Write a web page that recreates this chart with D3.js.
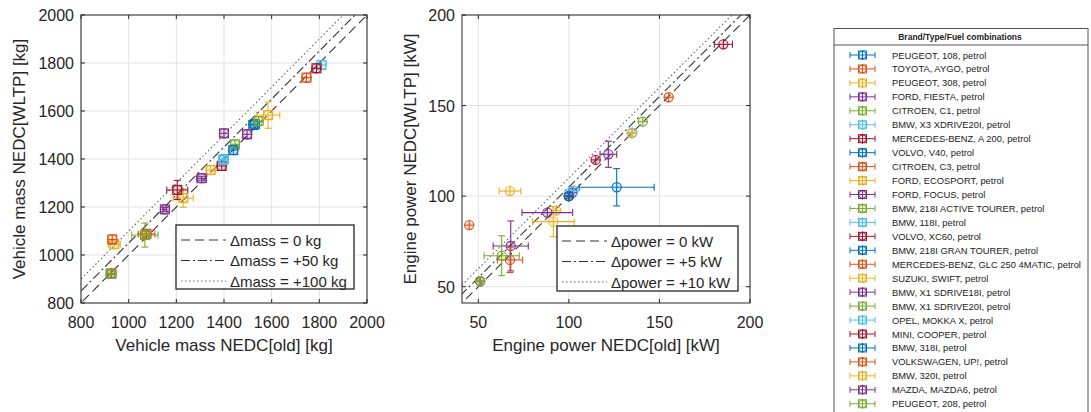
<!DOCTYPE html>
<html><head><meta charset="utf-8">
<script src="https://cdn.jsdelivr.net/npm/d3@7"></script>
<style>
body{margin:0;background:#fff;}
svg{font-family:"Liberation Sans",Arial,sans-serif;}
</style></head>
<body><svg id="c" width="1091" height="412"></svg>
<script>
const brands = ["PEUGEOT, 108, petrol","TOYOTA, AYGO, petrol","PEUGEOT, 308, petrol","FORD, FIESTA, petrol","CITROEN, C1, petrol","BMW, X3 XDRIVE20I, petrol","MERCEDES-BENZ, A 200, petrol","VOLVO, V40, petrol","CITROEN, C3, petrol","FORD, ECOSPORT, petrol","FORD, FOCUS, petrol","BMW, 218I ACTIVE TOURER, petrol","BMW, 118I, petrol","VOLVO, XC60, petrol","BMW, 218I GRAN TOURER, petrol","MERCEDES-BENZ, GLC 250 4MATIC, petrol","SUZUKI, SWIFT, petrol","BMW, X1 SDRIVE18I, petrol","BMW, X1 SDRIVE20I, petrol","OPEL, MOKKA X, petrol","MINI, COOPER, petrol","BMW, 318I, petrol","VOLKSWAGEN, UP!, petrol","BMW, 320I, petrol","MAZDA, MAZDA6, petrol","PEUGEOT, 208, petrol"];
const massOld  = [925, 928,1229,1152, 925,1809,1390,1530,1075,1344,1306,1446,1397,1788,1523,1746, 940,1497,1545,1400,1204,1439, 931,1585,1400,1068];
const massWltp = [921, 923,1237,1190, 921,1792,1371,1545,1088,1354,1320,1461,1396,1778,1542,1739,1045,1503,1558,1400,1271,1437,1065,1583,1507,1083];
const massErrX = [  0,   0,  42,   8,   0,   0,   0,   0,  35,   0,  20,   0,   0,   0,   0,   0,  25,   0,   0,   0,  44,   0,   0,  49,   0,  55];
const massErrY = [  0,   0,  38,   8,   0,   0,   0,   0,  10,   0,   8,   0,   0,   0,   0,   0,   0,   0,   0,   0,  40,   0,   0,  55,   0,  50];
const powerOld  = [51, 51, 93, 67.9, 51, 135, 114.8, 126.4, 67.5, 91.4, 88.1, 100, 100, 185.3, 100, 155.1, 67.5, 102, 140.8, 102.5, 100, 100, 45, 134.7, 121.8, 62.9];
const powerWltp = [53, 53, 92, 72.5, 53, 135, 120,   104.9, 64.8, 85.9, 90.9, 100, 101.5, 183.8, 100, 154.6, 102.8, 102, 141.1, 103, 100, 100, 84, 134.7, 123.1, 67.1];
const powerErrX = [ 0,  0,  0,  9.7,  0,   0,   0,    20.7,  7,   11.5, 14,    0,   0,   5,     0,   0,     6,    0,   0,     0,   0,   0,   0,  0,     4.6,   9.7];
const powerErrY = [ 0,  0,  0, 13.8,  0,   0,   0,    10.3,  7,    8.3,  0,    0,   0,   0,     0,   0,     0,    0,   0,     0,   0,   0,   0,  0,     7.2,  11];
const massTicks = [800,1000,1200,1400,1600,1800,2000];
const powerTicks = [50,100,150,200];
const massOffsets = [0,50,100];
const powerOffsets = [0,5,10];
const massLegend = ["\u0394mass = 0 kg","\u0394mass = +50 kg","\u0394mass = +100 kg"];
const powerLegend = ["\u0394power = 0 kW","\u0394power = +5 kW","\u0394power = +10 kW"];
const legendTitle = "Brand/Type/Fuel combinations";

const palette = ["#0072BD","#D95319","#EDB120","#7E2F8E","#77AC30","#4DBEEE","#A2142F"];
const color = i => palette[i % palette.length];
const dashes = ["9,5","9,3,2,3","1.5,2.5"];

const svg = d3.select("#c");
const axisCol = "#262626";

function panel(cfg){
  const g = svg.append("g");
  const x = d3.scaleLinear().domain(cfg.dom).range([cfg.x0, cfg.x1]);
  const y = d3.scaleLinear().domain(cfg.dom).range([cfg.y1, cfg.y0]);
  g.selectAll(".gx").data(cfg.ticks).enter().append("line")
    .attr("x1",d=>x(d)).attr("x2",d=>x(d)).attr("y1",cfg.y0).attr("y2",cfg.y1)
    .attr("stroke","#e3e3e3").attr("stroke-width",1);
  g.selectAll(".gy").data(cfg.ticks).enter().append("line")
    .attr("y1",d=>y(d)).attr("y2",d=>y(d)).attr("x1",cfg.x0).attr("x2",cfg.x1)
    .attr("stroke","#e3e3e3").attr("stroke-width",1);
  const cid = "clip"+cfg.id;
  svg.append("clipPath").attr("id",cid).append("rect")
    .attr("x",cfg.x0).attr("y",cfg.y0).attr("width",cfg.x1-cfg.x0).attr("height",cfg.y1-cfg.y0);
  const pg = g.append("g").attr("clip-path","url(#"+cid+")");
  cfg.offsets.forEach((o,k)=>{
    const d0 = cfg.dom[0]-200, d1 = cfg.dom[1]+200;
    pg.append("line").attr("x1",x(d0)).attr("y1",y(d0+o)).attr("x2",x(d1)).attr("y2",y(d1+o))
      .attr("stroke", k==2?"#666":"#333").attr("stroke-width",1.1).attr("stroke-dasharray",dashes[k]);
  });
  cfg.xs.forEach((xv,i)=>{
    const c = color(i), cx = x(xv), cy = y(cfg.ys[i]);
    const ex = cfg.ex[i], ey = cfg.ey[i];
    const pt = pg.append("g").attr("stroke",c).attr("fill","none").attr("stroke-width",1.1);
    const cap = 3.5;
    if (ex>0){
      pt.append("line").attr("x1",x(xv-ex)).attr("x2",x(xv+ex)).attr("y1",cy).attr("y2",cy);
      pt.append("line").attr("x1",x(xv-ex)).attr("x2",x(xv-ex)).attr("y1",cy-cap).attr("y2",cy+cap);
      pt.append("line").attr("x1",x(xv+ex)).attr("x2",x(xv+ex)).attr("y1",cy-cap).attr("y2",cy+cap);
    } else {
      pt.append("line").attr("x1",cx-5).attr("x2",cx+5).attr("y1",cy).attr("y2",cy);
    }
    if (ey>0){
      pt.append("line").attr("y1",y(cfg.ys[i]-ey)).attr("y2",y(cfg.ys[i]+ey)).attr("x1",cx).attr("x2",cx);
      pt.append("line").attr("y1",y(cfg.ys[i]-ey)).attr("y2",y(cfg.ys[i]-ey)).attr("x1",cx-cap).attr("x2",cx+cap);
      pt.append("line").attr("y1",y(cfg.ys[i]+ey)).attr("y2",y(cfg.ys[i]+ey)).attr("x1",cx-cap).attr("x2",cx+cap);
    } else {
      pt.append("line").attr("y1",cy-5).attr("y2",cy+5).attr("x1",cx).attr("x2",cx);
    }
    pt.append("circle").attr("cx",cx).attr("cy",cy).attr("r",4.6).attr("fill",c).attr("fill-opacity",0.15);
    if (cfg.square) pt.append("rect").attr("x",cx-4.5).attr("y",cy-4.5).attr("width",9).attr("height",9);
  });
  g.append("rect").attr("x",cfg.x0).attr("y",cfg.y0).attr("width",cfg.x1-cfg.x0).attr("height",cfg.y1-cfg.y0)
    .attr("fill","none").attr("stroke",axisCol).attr("stroke-width",1);
  const tl = 4;
  cfg.ticks.forEach(t=>{
    g.append("line").attr("x1",x(t)).attr("x2",x(t)).attr("y1",cfg.y1).attr("y2",cfg.y1-tl).attr("stroke",axisCol);
    g.append("line").attr("x1",x(t)).attr("x2",x(t)).attr("y1",cfg.y0).attr("y2",cfg.y0+tl).attr("stroke",axisCol);
    g.append("line").attr("y1",y(t)).attr("y2",y(t)).attr("x1",cfg.x0).attr("x2",cfg.x0+tl).attr("stroke",axisCol);
    g.append("line").attr("y1",y(t)).attr("y2",y(t)).attr("x1",cfg.x1).attr("x2",cfg.x1-tl).attr("stroke",axisCol);
  });
  g.selectAll(".tx").data(cfg.ticks).enter().append("text")
    .attr("x",d=>x(d)).attr("y",cfg.y1+25).attr("text-anchor","middle")
    .attr("font-size",16).attr("fill",axisCol).text(d=>d);
  g.selectAll(".ty").data(cfg.ticks).enter().append("text")
    .attr("x",cfg.x0-7).attr("y",d=>y(d)+6).attr("text-anchor","end")
    .attr("font-size",16).attr("fill",axisCol).text(d=>d);
  g.append("text").attr("x",(cfg.x0+cfg.x1)/2).attr("y",cfg.y1+48).attr("text-anchor","middle")
    .attr("font-size",17).attr("fill",axisCol).text(cfg.xlabel);
  g.append("text").attr("transform",`translate(${cfg.ylx},${(cfg.y0+cfg.y1)/2}) rotate(-90)`)
    .attr("text-anchor","middle").attr("font-size",17).attr("fill",axisCol).text(cfg.ylabel);
  const L = cfg.leg;
  g.append("rect").attr("x",L.x).attr("y",L.y).attr("width",L.w).attr("height",L.h)
    .attr("fill","#fff").attr("stroke",axisCol).attr("stroke-width",1.3);
  cfg.legText.forEach((t,k)=>{
    const yy = L.y + 15 + k*20.5;
    g.append("line").attr("x1",L.x+5).attr("x2",L.x+L.lw).attr("y1",yy).attr("y2",yy)
      .attr("stroke",k==2?"#666":"#333").attr("stroke-width",1.1).attr("stroke-dasharray",dashes[k]);
    g.append("text").attr("x",L.x+L.lw+4).attr("y",yy+5.5).attr("font-size",15).attr("fill",axisCol).text(t);
  });
}

panel({id:"m", dom:[800,2000], x0:81, x1:367, y0:15, y1:303, ticks:massTicks, offsets:massOffsets,
  xs:massOld, ys:massWltp, ex:massErrX, ey:massErrY, square:true,
  xlabel:"Vehicle mass NEDC[old] [kg]", ylabel:"Vehicle mass NEDC[WLTP] [kg]", ylx:25,
  legText:massLegend, leg:{x:176,y:225,w:178,h:64,lw:50}});
panel({id:"p", dom:[41,200], x0:462, x1:750, y0:15, y1:303, ticks:powerTicks, offsets:powerOffsets,
  xs:powerOld, ys:powerWltp, ex:powerErrX, ey:powerErrY, square:false,
  xlabel:"Engine power NEDC[old] [kW]", ylabel:"Engine power NEDC[WLTP] [kW]", ylx:416,
  legText:powerLegend, leg:{x:557,y:226,w:181,h:65,lw:50}});

const lg = svg.append("g");
lg.append("rect").attr("x",834).attr("y",28.5).attr("width",254).attr("height",420)
  .attr("fill","#fff").attr("stroke","#555").attr("stroke-width",1);
lg.append("line").attr("x1",834).attr("x2",1088).attr("y1",45).attr("y2",45).attr("stroke","#555");
lg.append("text").attr("x",960).attr("y",40).attr("text-anchor","middle").attr("font-size",8.5)
  .attr("font-weight","bold").attr("fill","#222").text(legendTitle);
brands.forEach((b,i)=>{
  const yy = 55 + i*13.95, c = color(i);
  const it = lg.append("g").attr("stroke",c).attr("fill","none").attr("stroke-width",1);
  it.append("line").attr("x1",850).attr("x2",875).attr("y1",yy).attr("y2",yy);
  it.append("line").attr("x1",850).attr("x2",850).attr("y1",yy-3).attr("y2",yy+3);
  it.append("line").attr("x1",875).attr("x2",875).attr("y1",yy-3).attr("y2",yy+3);
  it.append("line").attr("x1",862.5).attr("x2",862.5).attr("y1",yy-5).attr("y2",yy+5);
  it.append("circle").attr("cx",862.5).attr("cy",yy).attr("r",3.8);
  it.append("rect").attr("x",858.5).attr("y",yy-4).attr("width",8).attr("height",8);
  lg.append("text").attr("x",892).attr("y",yy+3.5).attr("font-size",9.4).attr("fill","#222").text(b);
});
</script></body></html>
